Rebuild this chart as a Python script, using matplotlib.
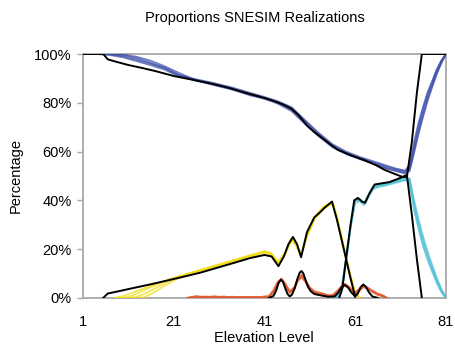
import matplotlib
matplotlib.use("Agg")
import matplotlib.pyplot as plt

plt.rcParams['font.family'] = ['Liberation Sans', 'DejaVu Sans']

# reference (training image) proportions per elevation level
blue_tx = [1, 5.5, 6.5, 8, 11, 14, 17, 21, 25, 29, 33, 37, 41, 43, 45.5, 47, 48.5, 50.5, 52, 53.7,
           55.5, 57.2, 60, 63, 65.5, 67.5, 69.5, 71.3, 72.4, 73.5, 74.6, 75.7, 81]
blue_ty = [100, 100, 97.8, 97.0, 95.5, 94.3, 93.0, 91.0, 89.5, 88.0, 86.2, 84.0, 82.0, 80.8, 79.0,
           77.5, 75.0, 70.5, 68.0, 65.6, 63.0, 60.7, 58.5, 56.5, 54.5, 52.5, 51.0, 49.7, 49.5,
           64.0, 84.0, 100, 100]

yellow_tx = [5.5, 6.5, 8.3, 12, 16, 20, 23, 27, 30.3, 34, 37.8, 41, 42.6, 44.1, 45.3, 46.3, 47.3,
             48.2, 49.1, 50.4, 52, 53.2, 54.3, 55.9, 57, 58, 59, 60, 61]
yellow_ty = [0, 1.8, 2.5, 4.0, 5.6, 7.3, 8.6, 10.4, 12.2, 14.2, 16.3, 17.6, 17.0, 13.0, 17.0, 22.0,
             25.0, 22.0, 16.7, 27.0, 33.0, 35.0, 37.0, 39.5, 32.0, 24.0, 16.0, 8.0, 0.5]

orange_tx = [42, 43, 43.6, 44.1, 44.6, 45.1, 45.6, 46.1, 46.6, 47.1, 47.7, 48.3, 48.8, 49.2, 49.6,
             50.1, 50.6, 51.2, 52, 53.5, 55, 56.5, 57.3, 58, 58.7, 59.4, 60.1, 61, 61.6, 62.2,
             62.8, 63.4, 64, 64.8, 66]
orange_ty = [0, 0.8, 3.0, 6.0, 7.5, 6.6, 4.0, 1.6, 0.6, 1.4, 4.0, 8.0, 10.4, 11.0, 10.0, 7.2, 4.6,
             2.8, 1.6, 1.0, 0.5, 0.6, 2.2, 4.4, 5.3, 4.4, 2.4, 0.6, 1.8, 4.4, 5.5, 4.6, 2.4, 0.6, 0]

cyan_tx = [57.5, 58.2, 59, 60, 60.8, 61.6, 62.5, 63.2, 64.2, 65.3, 67, 68.6, 70, 71.5, 72.4,
           73.5, 74.6, 75.7]
cyan_ty = [0, 4, 16, 30, 40, 41, 39.5, 39, 43, 46.5, 47, 47.5, 48.5, 49.6, 50.5, 34, 16, 0]

# SNESIM realizations
blue_x = [1, 4, 7, 10, 13, 16, 19, 22, 26, 30, 34, 38, 41, 44, 47, 50, 53, 56, 59, 62, 65, 68,
          70, 72, 73, 74, 75, 76, 77, 78, 79, 80, 81]
blue_real = [
    [100, 100, 99.6, 98.6, 97.0, 95.4, 93.6, 91.0, 89.4, 87.8, 85.9, 83.6, 82.0, 80.4, 77.8, 72.5,
     67.2, 62.6, 59.6, 57.4, 55.6, 53.8, 52.8, 51.9, 53.5, 62.5, 70.5, 77.5, 83.5, 88.5, 93.2, 97.0, 100],
    [100, 100, 100, 99.6, 98.2, 96.4, 94.4, 91.6, 89.0, 87.4, 85.5, 83.2, 81.6, 80.0, 77.0, 71.6,
     66.6, 62.0, 59.2, 57.2, 55.2, 53.2, 52.2, 51.4, 52.5, 60.5, 68.5, 75.5, 82.0, 87.2, 92.4, 96.6, 100],
    [100, 100, 99.8, 99.0, 97.6, 96.0, 94.2, 91.4, 89.6, 88.0, 86.2, 84.0, 82.4, 80.6, 78.2, 72.8,
     67.6, 63.0, 60.0, 57.8, 56.0, 54.2, 53.0, 52.2, 54.5, 64.0, 72.0, 78.5, 84.5, 89.0, 93.8, 97.4, 100],
    [100, 100, 100, 99.8, 98.8, 97.2, 95.0, 92.4, 89.2, 87.2, 85.4, 83.0, 81.8, 79.6, 76.6, 71.2,
     66.2, 61.8, 59.0, 56.9, 55.0, 53.0, 52.0, 51.0, 52.0, 59.5, 67.5, 74.5, 81.0, 86.5, 91.8, 96.2, 100],
]

yellow_x = [8, 10, 12, 14, 16, 18, 20, 22, 24, 27, 30, 34, 38, 41, 42.5, 44, 45.5, 47, 48, 49,
            50.5, 52, 54, 56, 57, 58, 59, 60, 61, 62]
yellow_real = [
    [0, 0.8, 2.2, 3.6, 5.0, 6.3, 7.6, 8.8, 9.9, 11.4, 13.0, 15.2, 17.4, 19.0, 18.2, 14.6, 18.2,
     24.2, 22.0, 17.6, 26.4, 32.8, 37.2, 39.2, 33.0, 25.0, 16.6, 8.6, 2.0, 0],
    [0, 0, 1.0, 2.8, 4.4, 6.0, 7.4, 8.7, 9.8, 11.3, 12.9, 15.0, 17.2, 18.8, 18.0, 14.2, 17.8,
     23.8, 21.8, 17.2, 25.8, 32.4, 36.8, 38.8, 32.6, 24.6, 16.2, 8.2, 1.8, 0],
    [0, 0, 0, 1.2, 3.0, 5.0, 6.8, 8.4, 9.7, 11.2, 12.7, 14.8, 17.0, 18.6, 17.8, 14.0, 17.6,
     23.6, 21.4, 17.0, 25.6, 32.0, 36.6, 38.6, 32.2, 24.2, 16.0, 8.0, 1.6, 0],
    [0, 0, 0, 0, 1.5, 3.8, 6.0, 8.0, 9.6, 11.6, 13.2, 15.4, 17.6, 19.2, 18.4, 14.8, 18.4,
     24.4, 22.2, 17.8, 26.6, 33.0, 37.4, 39.4, 33.4, 25.4, 17.0, 9.0, 2.4, 0],
]

orange_x = [24, 26, 28, 30, 32, 34, 36, 38, 40, 42, 43, 44, 44.8, 45.6, 46.6, 47.6, 48.4, 49.2,
            50, 51, 52, 53, 54, 55, 56, 57, 58, 58.8, 59.8, 61, 62, 62.8, 63.8, 65, 66, 67, 68]
orange_real = [
    [0, 0.8, 0.2, 0.5, 0.1, 0.4, 0.2, 0.3, 0.1, 0.5, 2.8, 6.2, 8.0, 5.6, 2.4, 4.2, 7.6, 9.2, 7.2,
     4.0, 2.6, 2.0, 1.6, 1.0, 1.0, 2.6, 4.6, 5.6, 4.0, 2.0, 3.6, 4.8, 4.0, 2.6, 1.6, 1.0, 0],
    [0, 0.3, 0.6, 0.2, 0.4, 0.2, 0.3, 0.1, 0.3, 0.8, 3.2, 6.8, 7.4, 5.0, 2.0, 3.8, 7.0, 8.4, 6.6,
     3.6, 2.2, 1.8, 1.4, 0.8, 0.8, 2.2, 4.0, 5.0, 3.6, 1.8, 3.2, 4.4, 3.8, 2.4, 1.4, 0.8, 0],
    [0, 0.5, 0.3, 0.7, 0.2, 0.5, 0.1, 0.4, 0.2, 0.4, 2.2, 5.6, 7.8, 6.0, 2.8, 4.4, 7.8, 9.6, 7.6,
     4.4, 2.8, 2.2, 1.8, 1.2, 1.2, 2.8, 4.8, 5.8, 4.4, 2.2, 3.8, 5.0, 4.2, 2.8, 1.8, 1.2, 0],
    [0, 0.2, 0.4, 0.3, 0.6, 0.1, 0.4, 0.2, 0.4, 0.6, 2.6, 6.4, 7.2, 5.2, 2.2, 3.6, 7.2, 8.8, 7.0,
     3.8, 2.4, 1.6, 1.2, 0.6, 0.6, 2.0, 4.2, 5.4, 3.8, 1.6, 3.0, 4.6, 3.6, 2.2, 1.2, 0.6, 0],
]

cyan_x = [56, 57, 58, 59, 60, 61, 62, 63, 64, 65, 66, 68, 70, 72, 73, 74, 75, 76, 77, 78, 79, 80, 81]
cyan_real = [
    [0, 0, 3.2, 15.4, 29.4, 39.6, 40.2, 38.6, 42.2, 45.2, 46.0, 46.8, 47.8, 48.8, 48.4, 38.6,
     30.6, 23.6, 17.6, 12.4, 7.4, 3.2, 0],
    [0, 0.4, 4.0, 16.2, 30.0, 40.0, 40.6, 39.0, 42.6, 45.6, 46.4, 47.2, 48.2, 49.2, 49.0, 40.0,
     32.0, 25.0, 18.8, 13.4, 8.2, 3.8, 0],
    [0, 0, 2.6, 14.6, 28.6, 39.0, 39.6, 38.0, 41.6, 44.6, 45.4, 46.2, 47.2, 48.2, 47.6, 37.2,
     29.2, 22.2, 16.4, 11.4, 6.6, 2.6, 0],
    [0, 0.2, 3.6, 15.8, 29.8, 39.8, 40.4, 38.8, 42.0, 45.0, 45.8, 46.6, 47.6, 48.4, 48.0, 36.0,
     28.0, 21.0, 15.4, 10.6, 6.0, 2.4, 0],
]

xticks = [1, 21, 41, 61, 81]
yticks = [0, 20, 40, 60, 80, 100]

fig = plt.figure(figsize=(4.55, 3.44), dpi=100)
ax = fig.add_axes([0.182, 0.134, 0.798, 0.709])

facies = [
    (blue_x, blue_real, '#3a4ca8'),
    (yellow_x, yellow_real, '#f0dc10'),
    (orange_x, orange_real, '#e05a30'),
    (cyan_x, cyan_real, '#4fc0d8'),
]
for xs, reals, col in facies:
    for r in reals:
        ax.plot(xs, r, color=col, lw=1.3, alpha=0.7, zorder=3)

for tx, ty in [(blue_tx, blue_ty), (yellow_tx, yellow_ty), (orange_tx, orange_ty), (cyan_tx, cyan_ty)]:
    ax.plot(tx, ty, color='black', lw=1.4, zorder=4)

ax.set_xlim(1, 81)
ax.set_ylim(0, 100)
ax.set_xticks(xticks)
ax.set_yticks(yticks)
ax.set_yticklabels([f'{v}%' for v in yticks])
for s in ax.spines.values():
    s.set_color('#a8a8a8')
    s.set_linewidth(1.3)
ax.tick_params(axis='y', length=4, width=1.0, color='#a8a8a8', pad=4, labelsize=10.5)
ax.tick_params(axis='x', length=0, pad=12, labelsize=10.5)
ax.set_xlabel('Elevation Level', fontsize=10.5, labelpad=2)
ax.set_ylabel('Percentage', fontsize=10.5, labelpad=8)

fig.text(255 / 455, 1 - 18 / 344, 'Proportions SNESIM Realizations', ha='center', va='center', fontsize=10.5)

fig.savefig('out.png', dpi=100)
